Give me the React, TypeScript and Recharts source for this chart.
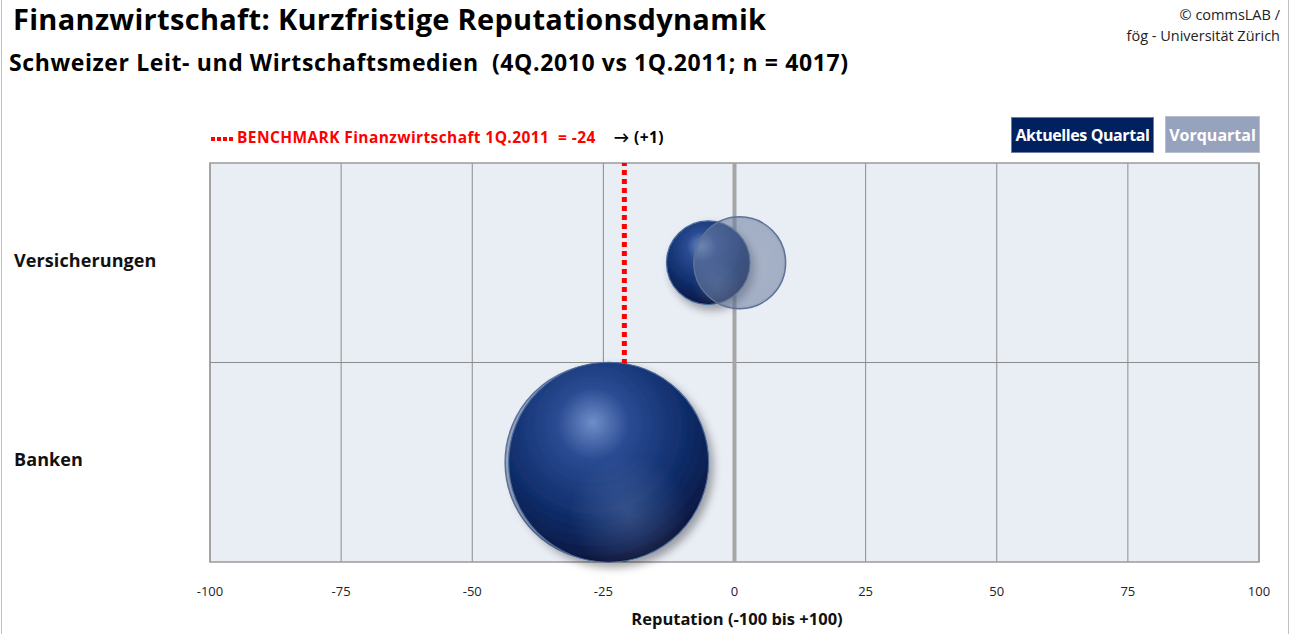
import { ScatterChart, Scatter, XAxis, YAxis, ZAxis, CartesianGrid, ReferenceLine, ReferenceArea } from 'recharts';

const categories = ['Banken', 'Versicherungen'];
const categoryPos = [0.5, 1.5];
// reputation values (x) and article volume (bubble size)
const currentRep = [-24, -5];
const currentVol = [3420, 597];
const prevRep = [-25, 1];
const prevVol = [3300, 720];
const xTicks = [-100, -75, -50, -25, 0, 25, 50, 75, 100];
const benchmarkLine = -21;

const FONT = '"Open Sans", Lato, sans-serif';

const currentData = categories.map((c, i) => ({ name: c, x: currentRep[i], y: categoryPos[i], z: currentVol[i] }));
const prevData = categories.map((c, i) => ({ name: c, x: prevRep[i], y: categoryPos[i], z: prevVol[i] }));
// Banken previous quarter sits under the current bubble, Versicherungen previous over it
const prevUnder = prevData.filter((d) => d.name === 'Banken');
const prevOver = prevData.filter((d) => d.name === 'Versicherungen');

const CurrentBubble = (props: any) => {
  const { cx, cy, width } = props;
  const r = width / 2;
  return (
    <g>
      <g filter="url(#bubbleShadow)">
        <circle cx={cx} cy={cy} r={r} fill="url(#curGrad)" stroke="#4a6a9e" strokeWidth={1.2} />
      </g>
      <circle cx={cx} cy={cy} r={r - 1} fill="url(#curGlow)" />
    </g>
  );
};

const PrevBubble = (props: any) => {
  const { cx, cy, width } = props;
  const r = width / 2;
  return <circle cx={cx} cy={cy} r={r} fill="url(#prevGrad)" stroke="#5d7299" strokeWidth={1.5} />;
};

const YTick = (props: any) => {
  const { y, payload } = props;
  const idx = categoryPos.indexOf(payload.value);
  return (
    <text x={14} y={y} dy={-1} dominantBaseline="middle" fontFamily={FONT} fontWeight={700} fontSize={18} letterSpacing={0.1} fill="#111">
      {categories[idx]}
    </text>
  );
};

export default function App() {
  return (
    <div style={{ position: 'absolute', left: 0, top: 0, width: 1292, height: 634, background: '#fff', fontFamily: FONT }}>
      <div style={{ position: 'absolute', left: 1, top: 0, width: 1286, height: 634, borderLeft: '1px solid #c0c0c0', borderRight: '1px solid #c0c0c0' }} />
      <div style={{ position: 'absolute', left: 13, top: -1, fontSize: 29, fontWeight: 700, color: '#000', whiteSpace: 'nowrap', letterSpacing: 0.3 }}>
        Finanzwirtschaft: Kurzfristige Reputationsdynamik
      </div>
      <div style={{ position: 'absolute', left: 9, top: 46, fontSize: 23, fontWeight: 700, color: '#000', whiteSpace: 'nowrap', letterSpacing: 0.6 }}>
        Schweizer Leit- und Wirtschaftsmedien&nbsp;&nbsp;(4Q.2010 vs 1Q.2011; n = 4017)
      </div>
      <div style={{ position: 'absolute', right: 12, top: 4, fontSize: 14.5, color: '#222', textAlign: 'right', lineHeight: '21px' }}>
        © commsLAB /<br />fög - Universität Zürich
      </div>
      <div style={{ position: 'absolute', left: 211, top: 126, fontSize: 15.5, fontWeight: 700, color: '#ff0000', whiteSpace: 'nowrap', letterSpacing: 0.4 }}>
        <span style={{ display: 'inline-block', width: 24, height: 4, marginRight: 2, verticalAlign: 'middle', background: 'repeating-linear-gradient(90deg, #ff0000 0 4px, transparent 4px 6px)' }} />
        BENCHMARK Finanzwirtschaft 1Q.2011&nbsp;&nbsp;= -24
        <span style={{ color: '#000', marginLeft: 18 }}>→ (+1)</span>
      </div>
      <div style={{ position: 'absolute', left: 1011, top: 117, width: 143, height: 36, background: '#002060', border: '1px solid #6b7fa6', boxSizing: 'border-box', color: '#fff', fontWeight: 700, fontSize: 16, display: 'flex', alignItems: 'center', justifyContent: 'center', whiteSpace: 'nowrap', letterSpacing: -0.4 }}>
        Aktuelles Quartal
      </div>
      <div style={{ position: 'absolute', left: 1165, top: 116, width: 95, height: 37, background: '#97a3bd', border: '1px solid #b8c0d0', boxSizing: 'border-box', color: '#fff', fontWeight: 700, fontSize: 16, display: 'flex', alignItems: 'center', justifyContent: 'center', whiteSpace: 'nowrap' }}>
        Vorquartal
      </div>
      <div style={{ position: 'absolute', left: 0, top: 0 }}>
        <ScatterChart width={1292} height={634} margin={{ top: 163, right: 33, bottom: 12, left: 10 }}>
          <defs>
            <radialGradient id="curGrad" cx="0.43" cy="0.33" r="0.72" fx="0.42" fy="0.3">
              <stop offset="0" stopColor="#6f8dc9" />
              <stop offset="0.25" stopColor="#2a4b92" />
              <stop offset="0.6" stopColor="#12306f" />
              <stop offset="0.86" stopColor="#0a1d4c" />
              <stop offset="1" stopColor="#040d24" />
            </radialGradient>
            <radialGradient id="curGlow" cx="0.6" cy="0.76" r="0.3">
              <stop offset="0" stopColor="#8aa0cc" stopOpacity={0.3} />
              <stop offset="1" stopColor="#8aa0cc" stopOpacity={0} />
            </radialGradient>
            <radialGradient id="prevGrad" cx="0.5" cy="0.5" r="0.55">
              <stop offset="0" stopColor="#6a7c9e" stopOpacity={0.5} />
              <stop offset="0.85" stopColor="#6a7c9e" stopOpacity={0.55} />
              <stop offset="1" stopColor="#5a6d92" stopOpacity={0.7} />
            </radialGradient>
            <filter id="bubbleShadow" x="-20%" y="-20%" width="150%" height="150%">
              <feDropShadow dx="4" dy="5" stdDeviation="4" floodColor="#000" floodOpacity="0.35" />
            </filter>
          </defs>
          <CartesianGrid horizontal={false} vertical stroke="#8c8c8c" fill="#e9edf4" fillOpacity={1} />
          <XAxis
            type="number"
            dataKey="x"
            domain={[-100, 100]}
            ticks={xTicks}
            axisLine={false}
            tickLine={false}
            tickSize={0}
            tickMargin={25}
            height={60}
            tick={{ fontFamily: FONT, fontSize: 13, fill: '#222' }}
          />
          <YAxis
            type="number"
            dataKey="y"
            domain={[0, 2]}
            ticks={categoryPos}
            axisLine={false}
            tickLine={false}
            width={200}
            tick={<YTick />}
          />
          <ZAxis type="number" dataKey="z" domain={[0, 3420]} range={[0, 31416]} />
          <ReferenceLine y={1} stroke="#8c8c8c" strokeWidth={1} />
          <ReferenceArea x1={-100} x2={100} y1={0} y2={2} fill="none" stroke="#9a9a9a" strokeWidth={1.5} />
          <ReferenceLine x={0} stroke="#a6a6a6" strokeWidth={4} />
          <Scatter data={prevUnder} shape={<PrevBubble />} isAnimationActive={false} />
          <Scatter data={currentData} shape={<CurrentBubble />} isAnimationActive={false} />
          <Scatter data={prevOver} shape={<PrevBubble />} isAnimationActive={false} />
          <ReferenceLine x={benchmarkLine} stroke="#ff0000" strokeWidth={5} strokeDasharray="5 4" />
        </ScatterChart>
      </div>
      <div style={{ position: 'absolute', left: 0, width: 1474, top: 607, textAlign: 'center', fontSize: 16.5, fontWeight: 700, color: '#111' }}>
        Reputation (-100 bis +100)
      </div>
    </div>
  );
}
